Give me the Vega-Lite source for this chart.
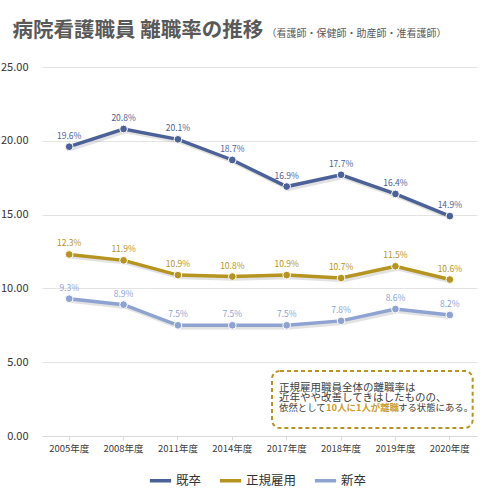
{
  "$schema": "https://vega.github.io/schema/vega-lite/v6.json",
  "width": 435,
  "height": 369,
  "autosize": "none",
  "padding": {"left": 42, "top": 67, "right": 18, "bottom": 59},
  "background": "white",
  "config": {
    "font": "Noto Sans CJK JP",
    "view": {"stroke": null},
    "legend": {
      "orient": "none",
      "legendX": 106,
      "legendY": 401,
      "direction": "horizontal",
      "title": null,
      "symbolType": "stroke",
      "symbolSize": 450,
      "symbolStrokeWidth": 3.5,
      "labelFontSize": 12.5,
      "labelColor": "#333333",
      "columnPadding": 10,
      "labelOffset": 3
    }
  },
  "data": {
    "values": [
      {"year": "2005年度", "series": "既卒", "value": 19.6, "label": "19.6%"},
      {"year": "2008年度", "series": "既卒", "value": 20.8, "label": "20.8%"},
      {"year": "2011年度", "series": "既卒", "value": 20.1, "label": "20.1%"},
      {"year": "2014年度", "series": "既卒", "value": 18.7, "label": "18.7%"},
      {"year": "2017年度", "series": "既卒", "value": 16.9, "label": "16.9%"},
      {"year": "2018年度", "series": "既卒", "value": 17.7, "label": "17.7%"},
      {"year": "2019年度", "series": "既卒", "value": 16.4, "label": "16.4%"},
      {"year": "2020年度", "series": "既卒", "value": 14.9, "label": "14.9%"},
      {"year": "2005年度", "series": "正規雇用", "value": 12.3, "label": "12.3%"},
      {"year": "2008年度", "series": "正規雇用", "value": 11.9, "label": "11.9%"},
      {"year": "2011年度", "series": "正規雇用", "value": 10.9, "label": "10.9%"},
      {"year": "2014年度", "series": "正規雇用", "value": 10.8, "label": "10.8%"},
      {"year": "2017年度", "series": "正規雇用", "value": 10.9, "label": "10.9%"},
      {"year": "2018年度", "series": "正規雇用", "value": 10.7, "label": "10.7%"},
      {"year": "2019年度", "series": "正規雇用", "value": 11.5, "label": "11.5%"},
      {"year": "2020年度", "series": "正規雇用", "value": 10.6, "label": "10.6%"},
      {"year": "2005年度", "series": "新卒", "value": 9.3, "label": "9.3%"},
      {"year": "2008年度", "series": "新卒", "value": 8.9, "label": "8.9%"},
      {"year": "2011年度", "series": "新卒", "value": 7.5, "label": "7.5%"},
      {"year": "2014年度", "series": "新卒", "value": 7.5, "label": "7.5%"},
      {"year": "2017年度", "series": "新卒", "value": 7.5, "label": "7.5%"},
      {"year": "2018年度", "series": "新卒", "value": 7.8, "label": "7.8%"},
      {"year": "2019年度", "series": "新卒", "value": 8.6, "label": "8.6%"},
      {"year": "2020年度", "series": "新卒", "value": 8.2, "label": "8.2%"}
    ]
  },
  "encoding": {
    "x": {
      "field": "year",
      "type": "ordinal",
      "bandPosition": 0.5,
      "scale": {
        "type": "band",
        "paddingInner": 0,
        "paddingOuter": 0,
        "domain": ["2005年度", "2008年度", "2011年度", "2014年度", "2017年度", "2018年度", "2019年度", "2020年度"]
      },
      "axis": {
        "title": "病院看護職員 離職率の推移",
        "titleAngle": 0,
        "titleAlign": "left",
        "titleBaseline": "middle",
        "titleX": -30,
        "titleY": -406,
        "titleFontSize": 20.5,
        "titleFontWeight": "bold",
        "titleColor": "#595959",
        "labelAngle": 0,
        "bandPosition": 0.5,
        "grid": false,
        "domainColor": "#d9d9d9",
        "tickColor": "#d9d9d9",
        "tickSize": 4,
        "labelPadding": 3,
        "labelFontSize": 9.5,
        "labelColor": "#404040"
      }
    }
  },
  "layer": [
    {
      "mark": {"type": "line", "strokeWidth": 3.5, "color": "#8a8a8a", "opacity": 0.25},
      "encoding": {
        "x": {"field": "year", "type": "ordinal", "bandPosition": 0.54},
        "y": {
          "field": "value",
          "type": "quantitative",
          "scale": {"domain": [0, 25], "nice": false},
          "axis": {
            "values": [0, 5, 10, 15, 20, 25],
            "format": ".2f",
            "grid": true,
            "gridColor": "#e3e3e3",
            "domain": false,
            "ticks": false,
            "labelPadding": 14,
            "labelFontSize": 11,
            "labelColor": "#333333",
            "title": "（看護師・保健師・助産師・准看護師）",
            "titleAngle": 0,
            "titleAlign": "left",
            "titleBaseline": "middle",
            "titleX": 224,
            "titleY": -34,
            "titleFontSize": 10,
            "titleFontWeight": "normal",
            "titleColor": "#595959"
          }
        },
        "detail": {"field": "series"},
        "yOffset": {"value": 2.5}
      }
    },
    {
      "mark": {"type": "line", "strokeWidth": 3.5},
      "encoding": {
        "y": {"field": "value", "type": "quantitative"},
        "color": {
          "field": "series",
          "type": "nominal",
          "scale": {
            "domain": ["既卒", "正規雇用", "新卒"],
            "range": ["#4b6197", "#b59420", "#8ea3d1"]
          }
        }
      }
    },
    {
      "mark": {"type": "point", "filled": true, "size": 60, "opacity": 1, "stroke": "white", "strokeWidth": 1},
      "encoding": {
        "y": {"field": "value", "type": "quantitative"},
        "color": {"field": "series", "type": "nominal"}
      }
    },
    {
      "mark": {"type": "text", "dy": -11, "fontSize": 8.5, "baseline": "middle"},
      "encoding": {
        "y": {"field": "value", "type": "quantitative"},
        "text": {"field": "label"},
        "color": {"field": "series", "type": "nominal"}
      }
    },
    {
      "data": {"values": [{"from": "2017年度", "to": "2020年度", "low": 0.54, "high": 4.41}]},
      "mark": {"type": "rect", "fill": "white", "stroke": "#b59420", "strokeWidth": 2, "strokeDash": [4, 3], "cornerRadius": 8},
      "encoding": {
        "x": {"field": "from", "type": "ordinal", "bandPosition": 0.23},
        "x2": {"field": "to", "bandPosition": 0.92},
        "y": {"field": "low", "type": "quantitative"},
        "y2": {"field": "high"}
      }
    },
    {
      "data": {"values": [
        {"at": "2017年度", "pos": 3.26, "note": "正規雇用職員全体の離職率は"},
        {"at": "2017年度", "pos": 2.58, "note": "近年やや改善してきはしたものの、"}
      ]},
      "mark": {"type": "text", "align": "left", "baseline": "middle", "fontSize": 10.5, "color": "#404040"},
      "encoding": {
        "x": {"field": "at", "type": "ordinal", "bandPosition": 0.36},
        "y": {"field": "pos", "type": "quantitative"},
        "text": {"field": "note"}
      }
    },
    {
      "data": {"values": [{"at": "2017年度", "pos": 1.9, "note": "依然として"}]},
      "mark": {"type": "text", "align": "left", "baseline": "middle", "fontSize": 9.4, "color": "#404040"},
      "encoding": {
        "x": {"field": "at", "type": "ordinal", "bandPosition": 0.36},
        "y": {"field": "pos", "type": "quantitative"},
        "text": {"field": "note"}
      }
    },
    {
      "data": {"values": [{"at": "2017年度", "pos": 1.9, "note": "10人に1人が離職"}]},
      "mark": {"type": "text", "align": "left", "baseline": "middle", "fontSize": 9.4, "fontWeight": "bold", "dx": 47, "color": "#c9a030"},
      "encoding": {
        "x": {"field": "at", "type": "ordinal", "bandPosition": 0.36},
        "y": {"field": "pos", "type": "quantitative"},
        "text": {"field": "note"}
      }
    },
    {
      "data": {"values": [{"at": "2017年度", "pos": 1.9, "note": "する状態にある。"}]},
      "mark": {"type": "text", "align": "left", "baseline": "middle", "fontSize": 9.4, "dx": 119, "color": "#404040"},
      "encoding": {
        "x": {"field": "at", "type": "ordinal", "bandPosition": 0.36},
        "y": {"field": "pos", "type": "quantitative"},
        "text": {"field": "note"}
      }
    }
  ]
}
